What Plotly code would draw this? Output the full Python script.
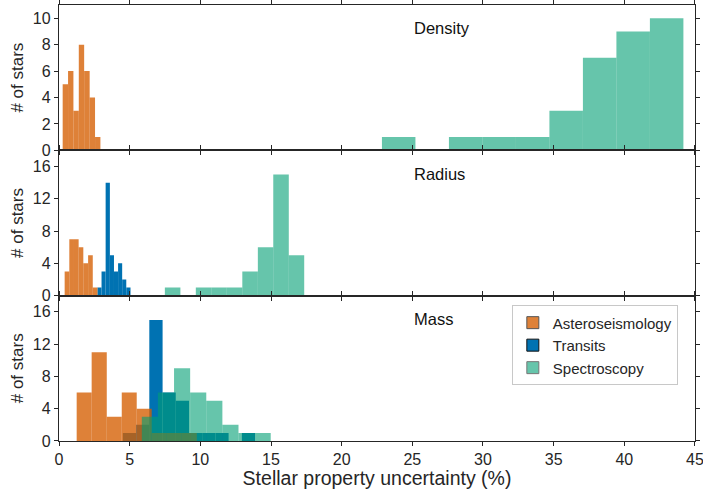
import numpy as np
import plotly.graph_objects as go
from plotly.subplots import make_subplots

# ---- data (bin edges in % uncertainty, counts = # of stars) ----
dens_ast_edges = [0.26, 0.64, 1.02, 1.40, 1.78, 2.17, 2.55, 2.93]
dens_ast_counts = [5, 6, 3, 8, 6, 4, 1]
dens_spec_edges = [22.85, 25.22, 27.59, 29.96, 32.33, 34.70, 37.07, 39.44, 41.81, 44.18]
dens_spec_counts = [1, 0, 1, 1, 1, 3, 7, 9, 10]

rad_ast_edges = [0.40, 0.73, 1.06, 1.39, 1.72, 2.06, 2.39, 2.72]
rad_ast_counts = [3, 7, 7, 6, 4, 5, 1]
rad_tra_edges = [2.72, 3.01, 3.30, 3.60, 3.89, 4.18, 4.47, 4.76, 5.06]
rad_tra_counts = [1, 3, 14, 5, 3, 4, 2, 1]
rad_spec_edges = [7.49, 8.59, 9.68, 10.78, 11.87, 12.97, 14.07, 15.16, 16.26, 17.35]
rad_spec_counts = [1, 0, 1, 1, 1, 3, 6, 15, 5]

mass_ast_edges = [1.25, 2.31, 3.38, 4.44, 5.50, 6.56, 7.63, 8.69, 9.75]
mass_ast_counts = [6, 11, 3, 6, 4, 1, 1, 1]
mass_tra_edges = [4.52, 5.46, 6.39, 7.33, 8.26, 9.20, 10.13, 11.07, 12.00, 12.94, 13.87]
mass_tra_counts = [1, 2, 15, 6, 5, 1, 1, 1, 0, 1]
mass_spec_edges = [5.86, 7.00, 8.14, 9.28, 10.42, 11.56, 12.70, 13.84, 14.98]
mass_spec_counts = [3, 6, 9, 6, 5, 2, 1, 1]

panel_names = ["Density", "Radius", "Mass"]
series_names = ["Asteroseismology", "Transits", "Spectroscopy"]
x_ticks = [0, 5, 10, 15, 20, 25, 30, 35, 40, 45]
dens_yticks = [0, 2, 4, 6, 8, 10]
rm_yticks = [0, 4, 8, 12, 16]

C_AST = "rgba(213,94,0,0.78)"
C_TRA = "rgb(0,114,178)"
C_SPEC = "rgba(0,158,115,0.6)"
FONT = "Liberation Sans, Arial, sans-serif"
INK = "#262626"

fig = make_subplots(rows=3, cols=1, shared_xaxes=True, vertical_spacing=0)


def add_hist(edges, counts, color, row, name):
    e = np.asarray(edges, dtype=float)
    fig.add_trace(
        go.Bar(
            x=e[:-1], y=counts, width=np.diff(e), offset=0,
            marker=dict(color=color, line=dict(width=0)),
            name=name, showlegend=False, hoverinfo="x+y",
        ),
        row=row, col=1,
    )


# drawing order: transits (opaque) below, asteroseismology, spectroscopy on top
add_hist(dens_ast_edges, dens_ast_counts, C_AST, 1, series_names[0])
add_hist(dens_spec_edges, dens_spec_counts, C_SPEC, 1, series_names[2])

add_hist(rad_tra_edges, rad_tra_counts, C_TRA, 2, series_names[1])
add_hist(rad_ast_edges, rad_ast_counts, C_AST, 2, series_names[0])
add_hist(rad_spec_edges, rad_spec_counts, C_SPEC, 2, series_names[2])

add_hist(mass_tra_edges, mass_tra_counts, C_TRA, 3, series_names[1])
add_hist(mass_ast_edges, mass_ast_counts, C_AST, 3, series_names[0])
add_hist(mass_spec_edges, mass_spec_counts, C_SPEC, 3, series_names[2])

# legend entries
for rank, (nm, col, lc) in enumerate(zip(series_names, [C_AST, C_TRA, C_SPEC],
                                          ["#555555", "#111111", "#777777"])):
    fig.add_trace(
        go.Bar(x=[None], y=[None], name=nm, marker=dict(color=col, line=dict(color=lc, width=1)),
               legendrank=rank + 1, showlegend=True),
        row=3, col=1,
    )

fig.update_layout(
    width=703, height=489,
    margin=dict(l=59, r=8, t=5, b=48, autoexpand=False),
    paper_bgcolor="white", plot_bgcolor="white",
    barmode="overlay",
    font=dict(family=FONT, size=16, color=INK),
    legend=dict(
        x=0.712, y=0.311, xanchor="left", yanchor="top",
        bgcolor="white", bordercolor="#c8c8c8", borderwidth=1,
        font=dict(size=15, color=INK), tracegroupgap=0, itemwidth=30,
    ),
)

axis_common = dict(
    showline=True, linecolor=INK, linewidth=1.3, mirror="ticks",
    ticks="outside", ticklen=4, tickwidth=1.2, tickcolor=INK,
    showgrid=False, zeroline=False, automargin=False,
)
for r in (1, 2, 3):
    fig.update_xaxes(range=[0, 45.001], tickvals=x_ticks, ticklabeloverflow="allow",
                     row=r, col=1, **axis_common)
fig.update_xaxes(
    title=dict(text="Stellar property uncertainty (%)", font=dict(size=19.5), standoff=0),
    tickfont=dict(size=16), row=3, col=1,
)

fig.update_yaxes(range=[0, 11], tickvals=dens_yticks, row=1, col=1, **axis_common)
fig.update_yaxes(range=[0, 18], tickvals=rm_yticks, row=2, col=1, **axis_common)
fig.update_yaxes(range=[0, 18], tickvals=rm_yticks, row=3, col=1, **axis_common)
for r in (1, 2, 3):
    fig.update_yaxes(title=dict(text="# of stars", font=dict(size=17), standoff=4),
                     tickfont=dict(size=16), row=r, col=1)

# panel labels
for r, nm in zip((1, 2, 3), panel_names):
    xref = "x" if r == 1 else f"x{r}"
    yref = "y domain" if r == 1 else f"y{r} domain"
    fig.add_annotation(x=25, y=0.84, xref=xref, yref=yref, text=nm, showarrow=False,
                       xanchor="left", yanchor="middle", font=dict(size=16.5, color="#111111"))

fig.write_html("out.html", config={"displayModeBar": False},
               post_script="document.body.style.margin='0px';")
